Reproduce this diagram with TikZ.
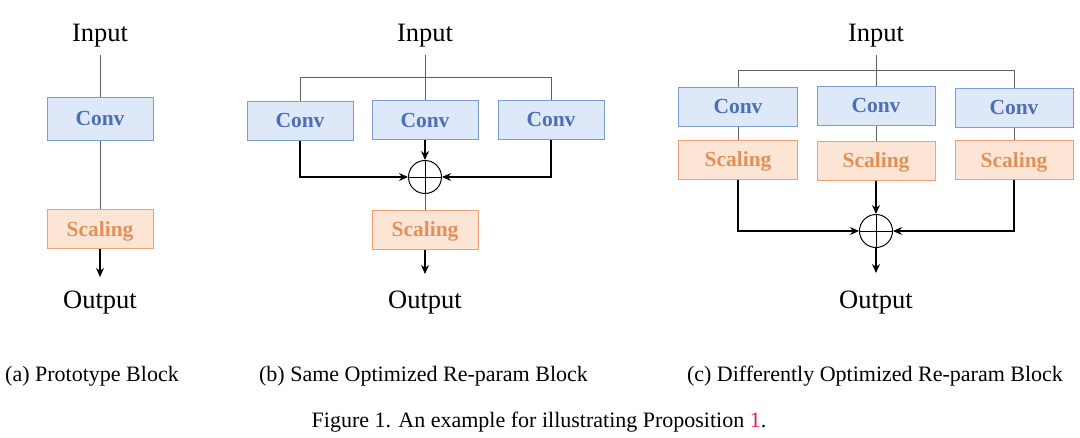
\documentclass[tikz,border=0pt]{standalone}
\usepackage{fontspec}
\setmainfont{Liberation Serif}
\usetikzlibrary{arrows.meta}
\definecolor{convfill}{HTML}{DDE8F8}
\definecolor{convdraw}{HTML}{7D9BD0}
\definecolor{convtext}{HTML}{4D6FB5}
\definecolor{scalfill}{HTML}{FDE5D5}
\definecolor{scaldraw}{HTML}{F0A070}
\definecolor{scaltext}{HTML}{E0915A}
\definecolor{linegray}{HTML}{606060}
\definecolor{refred}{HTML}{E0204A}
\begin{document}
\begin{tikzpicture}[x=1pt,y=-1pt,
  convbox/.style={draw=convdraw,fill=convfill,line width=1pt,minimum width=#1,minimum height=39pt,inner sep=0pt,
    text height=14.5pt,text depth=0pt,
    font=\fontsize{21.5}{24}\selectfont\bfseries,text=convtext},
  scalbox/.style={draw=scaldraw,fill=scalfill,line width=1pt,minimum width=#1,minimum height=39pt,inner sep=0pt,
    text height=14.5pt,text depth=0pt,
    font=\fontsize{21.5}{24}\selectfont\bfseries,text=scaltext},
  io/.style={font=\fontsize{26.5}{30}\selectfont,inner sep=0pt,anchor=base},
  captext/.style={font=\fontsize{22}{26}\selectfont,inner sep=0pt,anchor=base},
  plain/.style={draw=linegray,line width=1pt},
  arr/.style={draw=black,line width=1.3pt,-{Stealth[length=9pt,width=8pt]}},
  sumnode/.style={circle,draw=black,line width=1pt,minimum size=33pt,inner sep=0pt,
    path picture={\draw[black,line width=0.9pt] (path picture bounding box.north) -- (path picture bounding box.south)
      (path picture bounding box.west) -- (path picture bounding box.east);}}
]
\useasboundingbox (0,0) rectangle (1080,437);
% ---------- (a)
\node[io] (ina) at (100,41) {Input};
\node[convbox=106pt,minimum height=43pt] (conva) at (100,118.5) {Conv};
\node[scalbox=106pt] (scala) at (100,229) {Scaling};
\node[io] (outa) at (100,308) {Output};
\coordinate (enda) at (100,277);
\draw[plain,shorten <=8pt] (ina.south) -- (conva.north);
\draw[plain] (conva.south) -- (scala.north);
\draw[arr] (scala.south) -- (enda);
% ---------- (b)
\node[io] (inb) at (425,41) {Input};
\node[convbox=106pt] (convb1) at (300,120.5) {Conv};
\node[convbox=106pt] (convb2) at (425,120) {Conv};
\node[convbox=106pt] (convb3) at (551,119.5) {Conv};
\node[sumnode] (sumb) at (425,177) {};
\node[scalbox=106pt] (scalb) at (425,229.5) {Scaling};
\node[io] (outb) at (425,308) {Output};
\coordinate (lb) at (300,77);
\coordinate (rb) at (551,77);
\coordinate (endb) at (425,274);
\draw[plain,shorten <=8pt] (inb.south) -- (convb2.north);
\draw[plain] (convb1.north) -- (lb) -- (rb) -- (convb3.north);
\draw[arr] (convb2.south) -- (sumb.north);
\draw[arr] (convb1.south) |- (sumb.west);
\draw[arr] (convb3.south) |- (sumb.east);
\draw[plain] (sumb.south) -- (scalb.north);
\draw[arr] (scalb.south) -- (endb);
% ---------- (c)
\node[io] (inc) at (876,41) {Input};
\node[convbox=119pt] (convc1) at (738,106.5) {Conv};
\node[convbox=118pt] (convc2) at (876,105.5) {Conv};
\node[convbox=118pt] (convc3) at (1014,107.5) {Conv};
\node[scalbox=119pt] (scalc1) at (738,159.5) {Scaling};
\node[scalbox=118pt] (scalc2) at (876,160.5) {Scaling};
\node[scalbox=118pt] (scalc3) at (1014,160) {Scaling};
\node[sumnode] (sumc) at (876,231) {};
\node[io] (outc) at (876,308) {Output};
\coordinate (lc) at (738,70);
\coordinate (rc) at (1014,70);
\coordinate (endc) at (876,273);
\draw[plain,shorten <=8pt] (inc.south) -- (convc2.north);
\draw[plain] (convc1.north) -- (lc) -- (rc) -- (convc3.north);
\draw[plain] (convc1.south) -- (scalc1.north);
\draw[plain] (convc2.south) -- (scalc2.north);
\draw[plain] (convc3.south) -- (scalc3.north);
\draw[arr] (scalc2.south) -- (sumc.north);
\draw[arr] (scalc1.south) |- (sumc.west);
\draw[arr] (scalc3.south) |- (sumc.east);
\draw[arr] (sumc.south) -- (endc);
% ---------- captions
\node[captext] (capa) at (92,381) {(a) Prototype Block};
\node[captext] (capb) at (423.5,381) {(b) Same Optimized Re-param Block};
\node[captext] (capc) at (875,381) {(c) Differently Optimized Re-param Block};
\node[captext] (fig) at (539,427) {Figure 1. An example for illustrating Proposition \textcolor{refred}{1}.};
\end{tikzpicture}
\end{document}
